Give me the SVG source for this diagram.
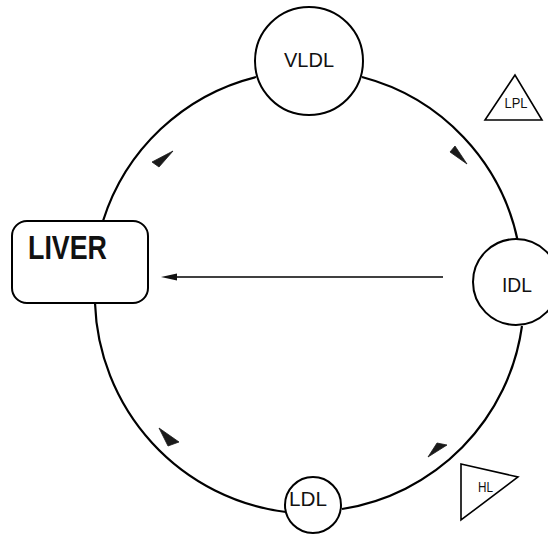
<svg xmlns="http://www.w3.org/2000/svg" width="548" height="536" viewBox="0 0 548 536">
  <defs>
    <style>
      .node { fill: #fff; stroke: #000; stroke-width: 2; }
      .enz { fill: #fff; stroke: #000; stroke-width: 1.6; stroke-linejoin: miter; }
      .lbl { font-family: "Liberation Sans", Arial, sans-serif; font-size: 20px; fill: #111; text-anchor: middle; }
      .small { font-size: 14px; }
      .bold { font-weight: bold; font-size: 33px; text-anchor: start; }
      .arc { fill: none; stroke: #000; stroke-width: 2.2; }
      .flow { fill: #1a1a1a; stroke: #1a1a1a; stroke-width: 0.8; stroke-linejoin: round; }
      .uptake { stroke: #000; stroke-width: 1.4; }
    </style>
    <marker id="head" viewBox="0 0 16 8" refX="1" refY="4" markerWidth="16" markerHeight="8" markerUnits="userSpaceOnUse" orient="auto-start-reverse">
      <path d="M16,4 L0,0.6 L0,7.4 Z" fill="#111"/>
    </marker>
  </defs>

  <rect width="548" height="536" fill="#fff"/>

  <!-- lipoprotein cycle arcs and direction marks -->
  <g id="connectors">
    <path class="arc" d="M362,77 A215 215 0 0 1 518,242"/>
    <path class="arc" d="M522,326 A215 215 0 0 1 342,509"/>
    <path class="arc" d="M286,512 A218 218 0 0 1 95,303"/>
    <path class="arc" d="M103,221 A215 215 0 0 1 256,77"/>

    <!-- direction triangles inside the loop -->
    <polygon class="flow" points="152,162 159,167 173,151"/>
    <polygon class="flow" points="450,152 455,146 467,164"/>
    <polygon class="flow" points="437,443 447,445 428,457"/>
    <polygon class="flow" points="179,442 168,446 159,428"/>

    <!-- IDL uptake by the liver -->
    <line class="uptake" x1="443" y1="277" x2="176" y2="277" marker-end="url(#head)"/>
  </g>

  <g id="liver">
    <rect class="node" x="12" y="221" width="136" height="82" rx="15" ry="15"/>
    <text class="lbl bold" x="28" y="259" textLength="79" lengthAdjust="spacingAndGlyphs">LIVER</text>
  </g>

  <g id="vldl">
    <circle class="node" cx="309" cy="61" r="54"/>
    <text class="lbl" x="309" y="67" font-size="21" textLength="50" lengthAdjust="spacingAndGlyphs">VLDL</text>
  </g>

  <g id="idl">
    <circle class="node" cx="516" cy="282" r="43"/>
    <text class="lbl" x="517" y="292" font-size="21" textLength="30" lengthAdjust="spacingAndGlyphs">IDL</text>
  </g>

  <g id="ldl">
    <circle class="node" cx="313" cy="505" r="28"/>
    <text class="lbl" x="308" y="506" font-size="21" textLength="38" lengthAdjust="spacingAndGlyphs">LDL</text>
  </g>

  <g id="lpl">
    <polygon class="enz" points="515,75 485,120 542,120"/>
    <text class="lbl small" x="516" y="108" textLength="23" lengthAdjust="spacingAndGlyphs">LPL</text>
  </g>

  <g id="hl">
    <polygon class="enz" points="461,464 518,477 461,520" stroke-width="2"/>
    <text class="lbl small" x="485.5" y="492" textLength="15" lengthAdjust="spacingAndGlyphs">HL</text>
  </g>
</svg>
